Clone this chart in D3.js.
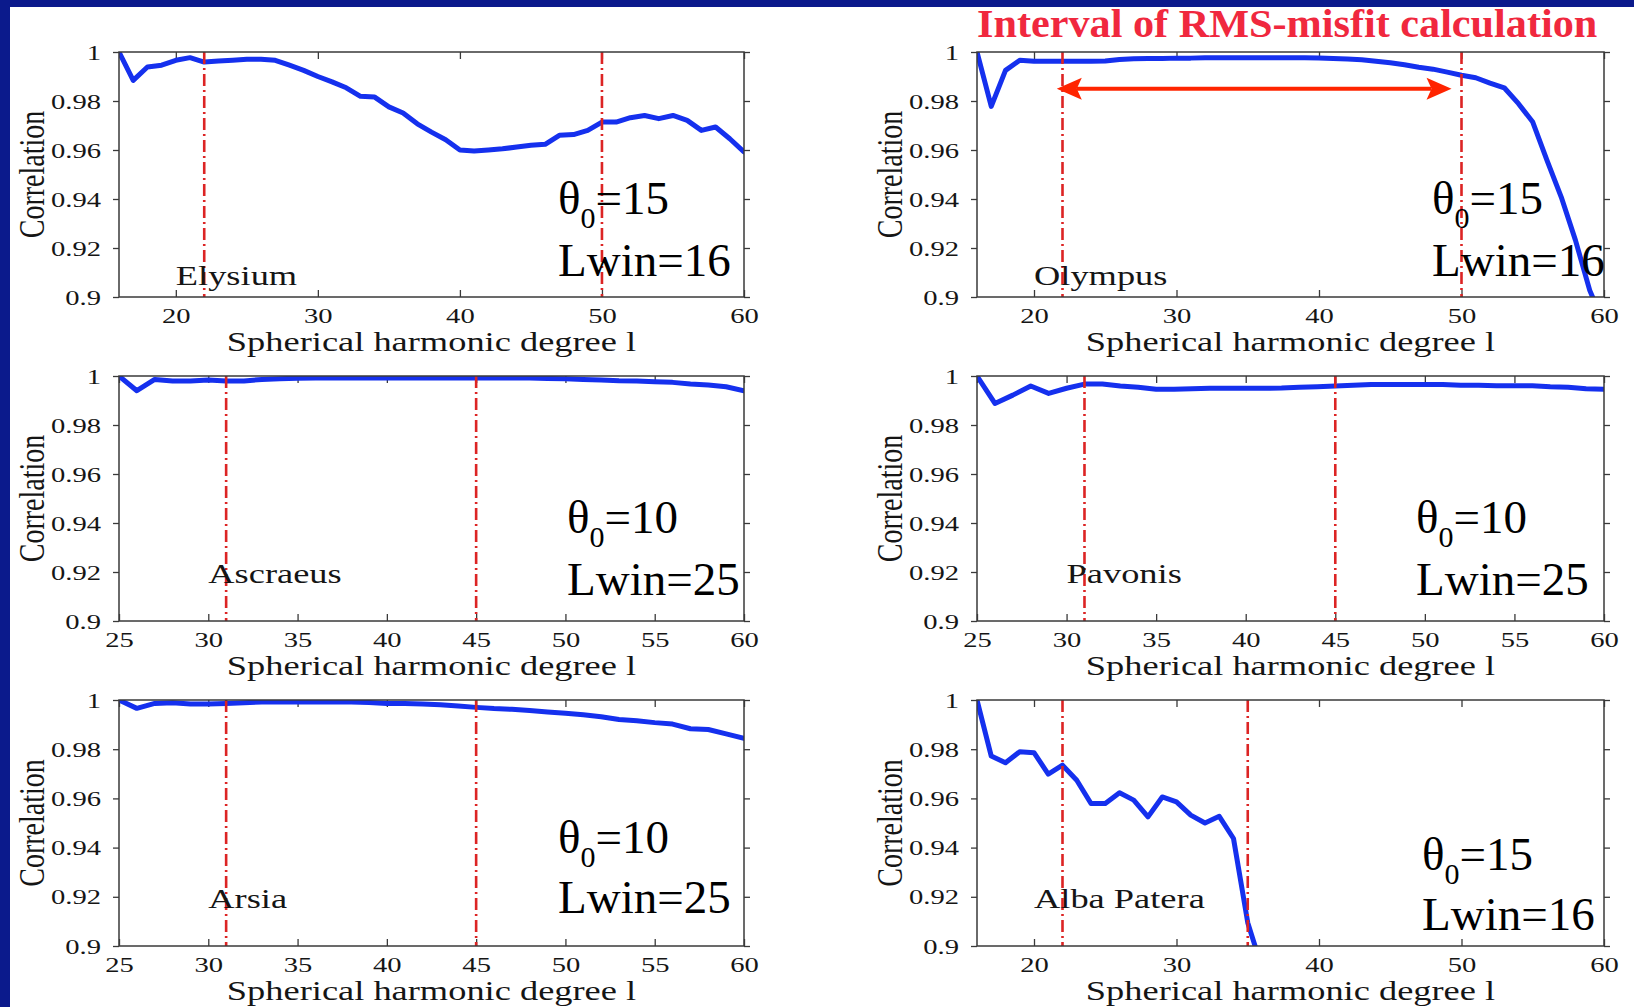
<!DOCTYPE html>
<html>
<head>
<meta charset="utf-8">
<script src="https://cdn.jsdelivr.net/npm/d3@7"></script>
<style>
  html, body { margin: 0; padding: 0; background: #ffffff; }
  svg { display: block; }
  text { font-family: "Liberation Serif", "Times New Roman", serif; }
</style>
</head>
<body>
<svg id="fig" width="1634" height="1007"></svg>
<script>
// Correlation vs spherical harmonic degree for six volcanic regions.
// Each series starts at its window bandwidth Lwin and runs one value per degree.
const elysiumStart = 16;
const elysium = [1.0, 0.9884, 0.9939, 0.9946, 0.9966, 0.9977, 0.9959, 0.9963, 0.9966, 0.997,
  0.997, 0.9966, 0.9946, 0.9925, 0.990, 0.9878, 0.9854, 0.9819, 0.9816, 0.9776,
  0.9751, 0.9707, 0.9673, 0.9642, 0.960, 0.9596, 0.960, 0.9605, 0.9612, 0.9619,
  0.9623, 0.966, 0.9663, 0.968, 0.9714, 0.9714, 0.9732, 0.9741, 0.9728, 0.9741,
  0.9721, 0.968, 0.9694, 0.9646, 0.9592];

const olympusStart = 16;
const olympus = [1.0, 0.9778, 0.9925, 0.9966, 0.9962, 0.9962, 0.9962, 0.9962, 0.9962, 0.9963,
  0.9969, 0.9972, 0.9973, 0.9973, 0.9975, 0.9975, 0.9977, 0.9977, 0.9977, 0.9977,
  0.9977, 0.9977, 0.9977, 0.9977, 0.9976, 0.9973, 0.9971, 0.9968, 0.9962, 0.9956,
  0.9948, 0.9938, 0.9930, 0.9918, 0.9905, 0.9895, 0.9873, 0.9854, 0.9789, 0.9714,
  0.9558, 0.9408, 0.9231, 0.9027, 0.889];

const ascraeusStart = 25;
const ascraeus = [1.0, 0.994, 0.9986, 0.998, 0.998, 0.9984, 0.998, 0.998, 0.9986, 0.9989,
  0.9991, 0.9992, 0.9992, 0.9992, 0.9992, 0.9992, 0.9992, 0.9992, 0.9992, 0.9992,
  0.9992, 0.9992, 0.9992, 0.9992, 0.999, 0.9989, 0.9986, 0.9984, 0.9981, 0.998,
  0.9977, 0.9974, 0.9967, 0.9963, 0.9956, 0.994];

const pavonisStart = 25;
const pavonis = [1.0, 0.9888, 0.9922, 0.9959, 0.9929, 0.995, 0.9967, 0.9967, 0.9959, 0.9954,
  0.9946, 0.9946, 0.9948, 0.995, 0.995, 0.995, 0.995, 0.9951, 0.9954, 0.9956,
  0.9959, 0.9962, 0.9965, 0.9965, 0.9965, 0.9965, 0.9965, 0.9962, 0.9962, 0.996,
  0.996, 0.996, 0.9956, 0.9954, 0.9948, 0.9946];

const arsiaStart = 25;
const arsia = [1.0, 0.9966, 0.9986, 0.9989, 0.9984, 0.9984, 0.9986, 0.9989, 0.9992, 0.9992,
  0.9992, 0.9992, 0.9992, 0.9992, 0.999, 0.9986, 0.9986, 0.9984, 0.9981, 0.9976,
  0.997, 0.9965, 0.9962, 0.9957, 0.9951, 0.9946, 0.994, 0.9932, 0.9921, 0.9916,
  0.9908, 0.9902, 0.9883, 0.988, 0.9862, 0.9844];

const albaStart = 16;
const alba = [1.0, 0.9772, 0.9745, 0.979, 0.9786, 0.9699, 0.9735, 0.9674, 0.9579, 0.9579,
  0.9623, 0.9593, 0.9525, 0.9606, 0.9586, 0.9532, 0.95, 0.9527, 0.9437, 0.9095,
  0.891];

// Axis ticks
const ticksL16 = [20, 30, 40, 50, 60];
const ticksL25 = [25, 30, 35, 40, 45, 50, 55, 60];
const yTicks = [0.9, 0.92, 0.94, 0.96, 0.98, 1];
const yTickLabels = ["0.9", "0.92", "0.94", "0.96", "0.98", "1"];

// Degree interval used for the RMS misfit, per region
const intervalElysium = [22, 50];
const intervalOlympus = [22, 50];
const intervalAscraeus = [31, 45];
const intervalPavonis = [31, 45];
const intervalArsia = [31, 45];
const intervalAlba = [22, 35];

// Window parameters
const thetaValues = ["15", "15", "10", "10", "10", "15"];
const lwinValues = ["16", "16", "25", "25", "25", "16"];
const regionNames = ["Elysium", "Olympus", "Ascraeus", "Pavonis", "Arsia", "Alba Patera"];

// Highlighted interval arrow in the Olympus panel
const arrowSpan = [21.6, 49.3];
const arrowLevel = 0.985;

const titleText = "Interval of RMS-misfit calculation";

// ---------------------------------------------------------------------------
const W = 1634, H = 1007;
const svg = d3.select("#fig");

const BLUE = "#1530ee";
const RED_DASH = "#dc2424";
const AXIS = "#3a3a3a";
const SX = 1.3; // horizontal stretch of the figure's own lettering

// Slide frame
svg.append("rect").attr("x", 0).attr("y", 0).attr("width", W).attr("height", H).attr("fill", "#ffffff");
svg.append("rect").attr("x", 0).attr("y", 0).attr("width", 10).attr("height", H).attr("fill", "#0b1a8c");
svg.append("rect").attr("x", 0).attr("y", 0).attr("width", W).attr("height", 7).attr("fill", "#0b1a8c");

const cols = [[119, 744], [977, 1604]];
const rows = [[52, 297], [376, 621], [700, 946]];

const panels = [
  { values: elysium, start: elysiumStart, domain: [16, 60], ticks: ticksL16, interval: intervalElysium,
    col: 0, row: 0, label: [20, 0.9049], anno: [439, 162, 224] },
  { values: olympus, start: olympusStart, domain: [16, 60], ticks: ticksL16, interval: intervalOlympus,
    col: 1, row: 0, label: [20, 0.9049], anno: [455, 162, 224], arrow: true },
  { values: ascraeus, start: ascraeusStart, domain: [25, 60], ticks: ticksL25, interval: intervalAscraeus,
    col: 0, row: 1, label: [30, 0.9155], anno: [448, 157, 219] },
  { values: pavonis, start: pavonisStart, domain: [25, 60], ticks: ticksL25, interval: intervalPavonis,
    col: 1, row: 1, label: [30, 0.9155], anno: [439, 157, 219] },
  { values: arsia, start: arsiaStart, domain: [25, 60], ticks: ticksL25, interval: intervalArsia,
    col: 0, row: 2, label: [30, 0.9155], anno: [439, 153, 213] },
  { values: alba, start: albaStart, domain: [16, 60], ticks: ticksL16, interval: intervalAlba,
    col: 1, row: 2, label: [20, 0.9155], anno: [445, 170, 230] }
];

const defs = svg.append("defs");

panels.forEach((p, i) => {
  const [x0, x1] = cols[p.col];
  const [y0, y1] = rows[p.row];
  const w = x1 - x0, h = y1 - y0;
  const g = svg.append("g").attr("transform", `translate(${x0},${y0})`);

  const x = d3.scaleLinear().domain(p.domain).range([0, w]);
  const y = d3.scaleLinear().domain([0.9, 1]).range([h, 0]);

  const clipId = "clip" + i;
  defs.append("clipPath").attr("id", clipId)
    .append("rect").attr("x", 0).attr("y", 0).attr("width", w).attr("height", h);

  // Axes: inward x ticks top and bottom, y ticks on both sides
  const xb = g.append("g").attr("transform", `translate(0,${h})`)
    .call(d3.axisBottom(x).tickValues(p.ticks).tickSize(-7).tickPadding(10).tickFormat(d3.format("d")));
  const xt = g.append("g")
    .call(d3.axisTop(x).tickValues(p.ticks).tickSize(-7).tickFormat(""));
  const yl = g.append("g")
    .call(d3.axisLeft(y).tickValues(yTicks).tickSize(6).tickPadding(12)
      .tickFormat((d, k) => yTickLabels[k]));
  const yr = g.append("g").attr("transform", `translate(${w},0)`)
    .call(d3.axisRight(y).tickValues(yTicks).tickSize(6).tickFormat(""));

  [xb, xt, yl, yr].forEach(a => {
    a.select(".domain").remove();
    a.selectAll("line").attr("stroke", AXIS).attr("stroke-width", 1.3);
    a.selectAll("text").attr("font-family", "Liberation Serif, serif")
      .attr("font-size", 22).attr("fill", "#151515");
  });
  xb.selectAll("text").attr("transform", `scale(${SX},1)`);
  yl.selectAll("text").attr("x", -18 / SX).attr("transform", `scale(${SX},1)`);

  // Curve
  const pts = p.values.map((v, k) => [p.start + k, v]);
  g.append("path")
    .datum(pts)
    .attr("clip-path", `url(#${clipId})`)
    .attr("fill", "none")
    .attr("stroke", BLUE)
    .attr("stroke-width", 5)
    .attr("stroke-linejoin", "round")
    .attr("stroke-linecap", "round")
    .attr("d", d3.line().x(d => x(d[0])).y(d => y(d[1])));

  // Interval bounds
  g.selectAll("line.bound").data(p.interval).join("line")
    .attr("class", "bound")
    .attr("x1", d => x(d)).attr("x2", d => x(d))
    .attr("y1", y(1)).attr("y2", y(0.9))
    .attr("stroke", RED_DASH).attr("stroke-width", 2.6)
    .attr("stroke-dasharray", "12,4,2,4");

  // Box
  g.append("rect").attr("x", 0).attr("y", 0).attr("width", w).attr("height", h)
    .attr("fill", "none").attr("stroke", AXIS).attr("stroke-width", 1.5);

  // Axis titles
  g.append("text")
    .attr("transform", `translate(${w / 2},${h + 54}) scale(${SX},1)`)
    .attr("text-anchor", "middle").attr("font-size", 28).attr("fill", "#151515")
    .text("Spherical harmonic degree l");
  g.append("text")
    .attr("transform", `translate(-75,${h / 2}) scale(${SX},1) rotate(-90)`)
    .attr("text-anchor", "middle").attr("font-size", 28).attr("fill", "#151515")
    .text("Correlation");

  // Region name
  g.append("text")
    .attr("transform", `translate(${x(p.label[0])},${y(p.label[1])}) scale(${SX},1)`)
    .attr("font-size", 28).attr("fill", "#151515")
    .text(regionNames[i]);

  // Window parameters
  const t = g.append("text")
    .attr("x", p.anno[0]).attr("y", p.anno[1])
    .attr("font-size", 47).attr("fill", "#000");
  t.append("tspan").text("θ");
  t.append("tspan").attr("font-size", 30).attr("dy", 14).text("0");
  t.append("tspan").attr("dy", -14).text("=" + thetaValues[i]);
  g.append("text")
    .attr("x", p.anno[0]).attr("y", p.anno[2])
    .attr("font-size", 47).attr("fill", "#000")
    .text("Lwin=" + lwinValues[i]);

  // Double-headed arrow marking the misfit interval
  if (p.arrow) {
    const ay = y(arrowLevel);
    const ax0 = x(arrowSpan[0]), ax1 = x(arrowSpan[1]);
    const AR = "#ff2400";
    const headL = 25, headW = 11, notch = 5;
    g.append("line")
      .attr("x1", ax0 + headL - notch).attr("x2", ax1 - headL + notch)
      .attr("y1", ay).attr("y2", ay)
      .attr("stroke", AR).attr("stroke-width", 4);
    const head = (tx, dir) => {
      const bx = tx + dir * headL;
      return `M${tx},${ay} L${bx},${ay - headW} L${bx - dir * notch},${ay} L${bx},${ay + headW} Z`;
    };
    g.append("path").attr("d", head(ax0, 1)).attr("fill", AR);
    g.append("path").attr("d", head(ax1, -1)).attr("fill", AR);
  }
});

// Heading
svg.append("text")
  .attr("transform", "translate(977,37) scale(1.03,1)")
  .attr("font-size", 41).attr("font-weight", "bold").attr("fill", "#f0283e")
  .text(titleText);
</script>
</body>
</html>
